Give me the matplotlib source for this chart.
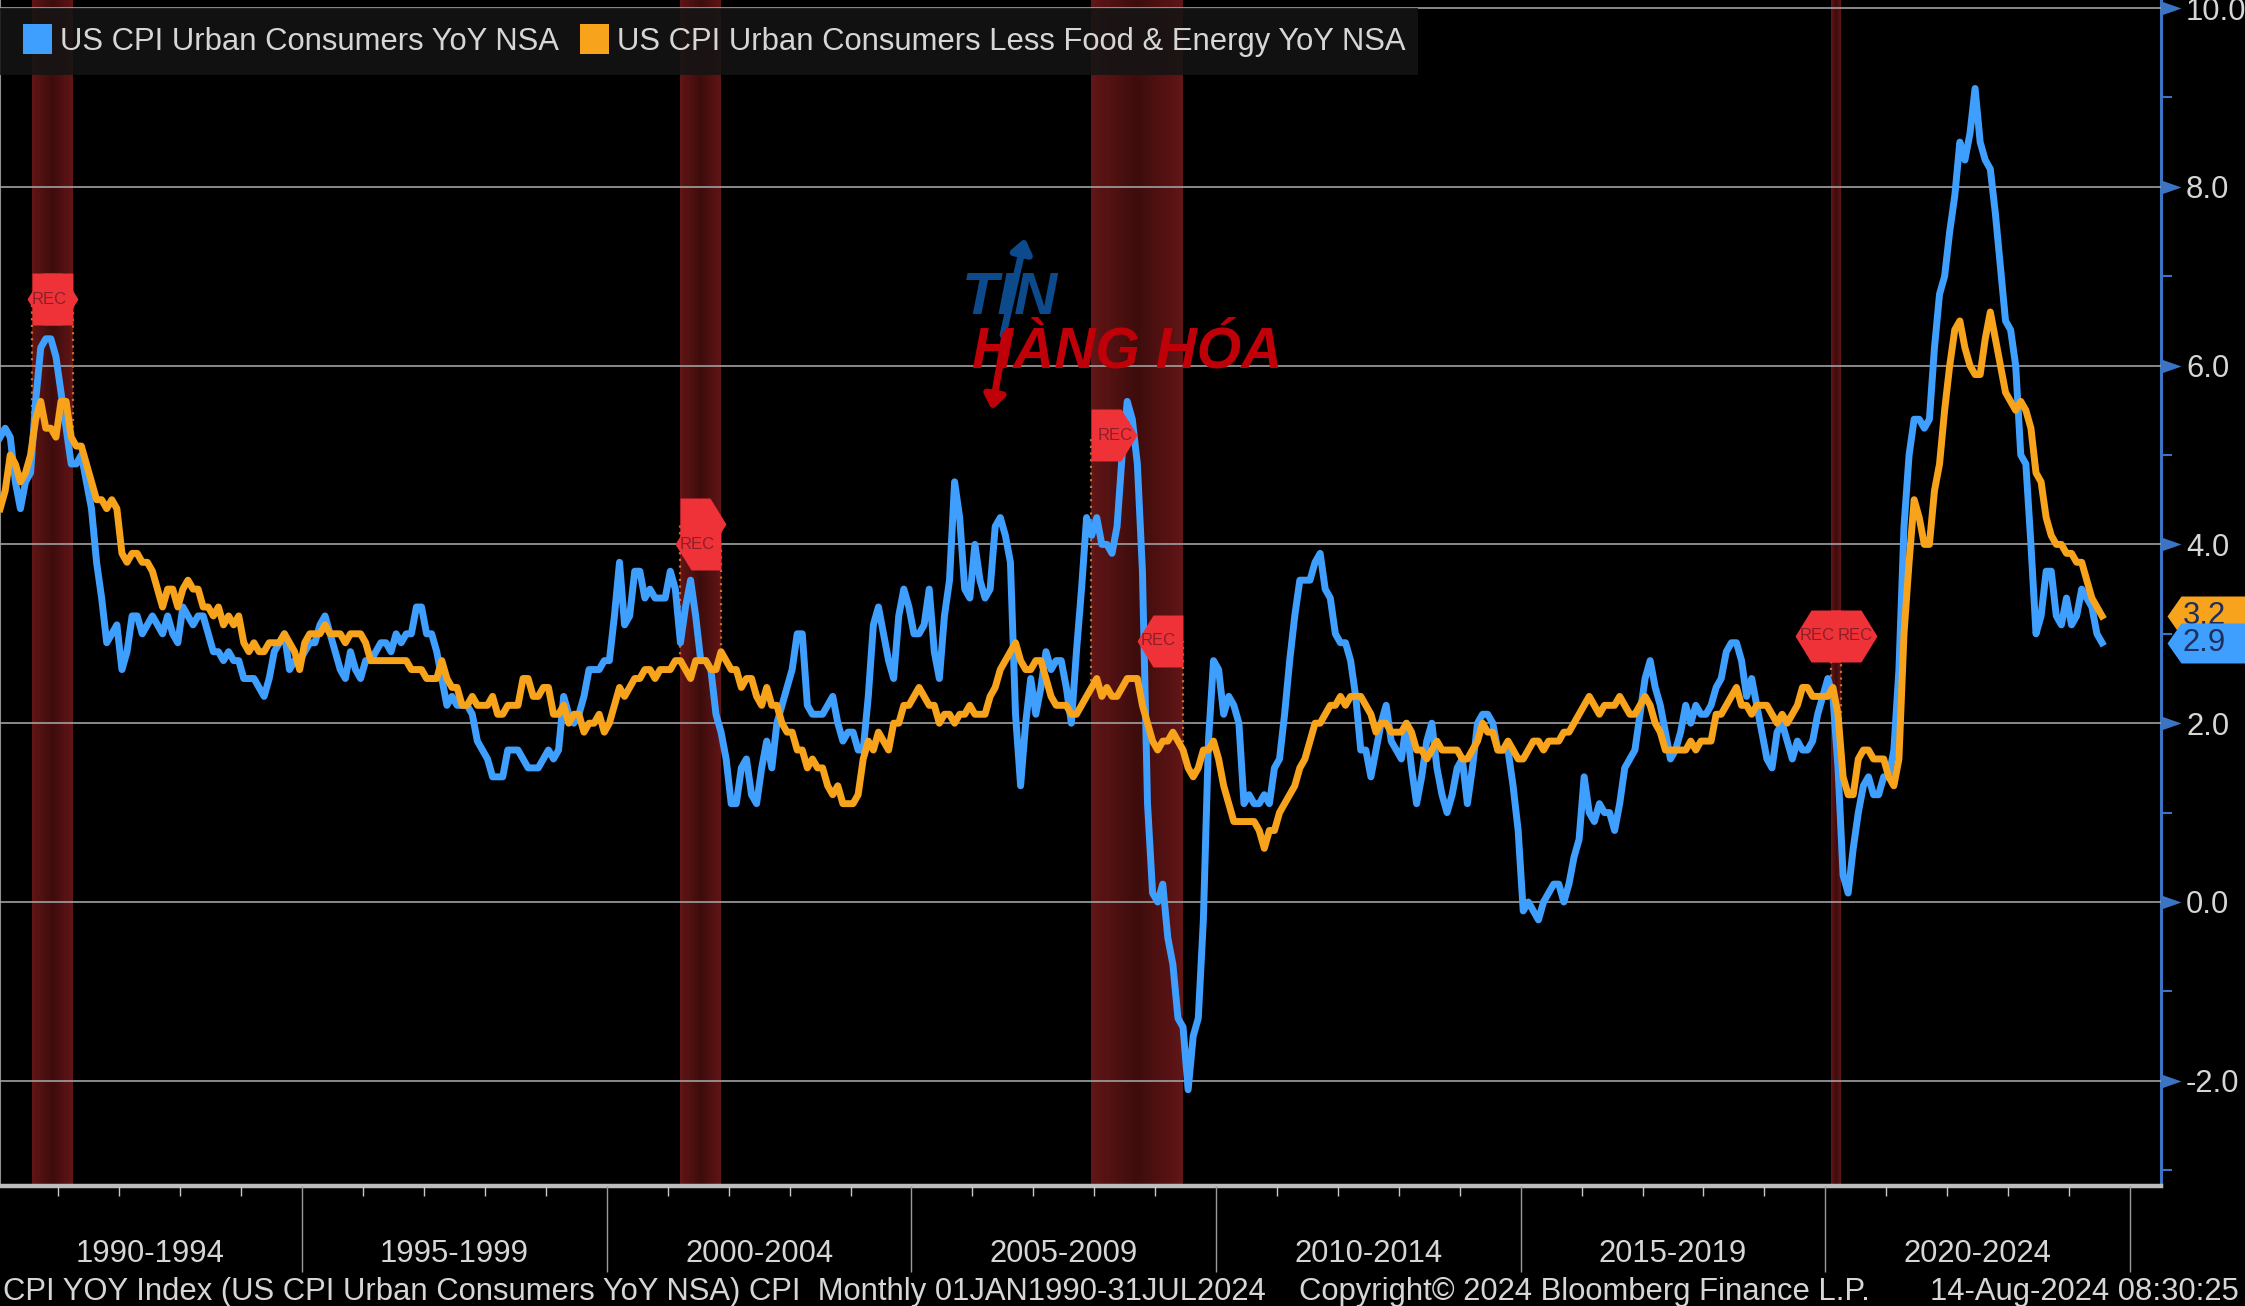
import numpy as np
import matplotlib
matplotlib.use("Agg")
import matplotlib.pyplot as plt
from matplotlib.path import Path
from matplotlib.patches import Rectangle
from matplotlib.ticker import MultipleLocator
from matplotlib.colors import to_rgb

cpi_1990s = [5.2,5.3,5.2,4.7,4.4,4.7,4.8,5.6,6.2,6.3,6.3,6.1,
 5.7,5.3,4.9,4.9,5.0,4.7,4.4,3.8,3.4,2.9,3.0,3.1,
 2.6,2.8,3.2,3.2,3.0,3.1,3.2,3.1,3.0,3.2,3.0,2.9,
 3.3,3.2,3.1,3.2,3.2,3.0,2.8,2.8,2.7,2.8,2.7,2.7,
 2.5,2.5,2.5,2.4,2.3,2.5,2.8,2.9,3.0,2.6,2.7,2.7,
 2.8,2.9,2.9,3.1,3.2,3.0,2.8,2.6,2.5,2.8,2.6,2.5,
 2.7,2.7,2.8,2.9,2.9,2.8,3.0,2.9,3.0,3.0,3.3,3.3,
 3.0,3.0,2.8,2.5,2.2,2.3,2.2,2.2,2.2,2.1,1.8,1.7,
 1.6,1.4,1.4,1.4,1.7,1.7,1.7,1.6,1.5,1.5,1.5,1.6,
 1.7,1.6,1.7,2.3,2.1,2.0,2.1,2.3,2.6,2.6,2.6,2.7]
cpi_2000s = [2.7,3.2,3.8,3.1,3.2,3.7,3.7,3.4,3.5,3.4,3.4,3.4,
 3.7,3.5,2.9,3.3,3.6,3.2,2.7,2.7,2.6,2.1,1.9,1.6,
 1.1,1.1,1.5,1.6,1.2,1.1,1.5,1.8,1.5,2.0,2.2,2.4,
 2.6,3.0,3.0,2.2,2.1,2.1,2.1,2.2,2.3,2.0,1.8,1.9,
 1.9,1.7,1.7,2.3,3.1,3.3,3.0,2.7,2.5,3.2,3.5,3.3,
 3.0,3.0,3.1,3.5,2.8,2.5,3.2,3.6,4.7,4.3,3.5,3.4,
 4.0,3.6,3.4,3.5,4.2,4.3,4.1,3.8,2.1,1.3,2.0,2.5,
 2.1,2.4,2.8,2.6,2.7,2.7,2.4,2.0,2.8,3.5,4.3,4.1,
 4.3,4.0,4.0,3.9,4.2,5.0,5.6,5.4,4.9,3.7,1.1,0.1,
 0.0,0.2,-0.4,-0.7,-1.3,-1.4,-2.1,-1.5,-1.3,-0.2,1.8,2.7]
cpi_2010s = [2.6,2.1,2.3,2.2,2.0,1.1,1.2,1.1,1.1,1.2,1.1,1.5,
 1.6,2.1,2.7,3.2,3.6,3.6,3.6,3.8,3.9,3.5,3.4,3.0,
 2.9,2.9,2.7,2.3,1.7,1.7,1.4,1.7,2.0,2.2,1.8,1.7,
 1.6,2.0,1.5,1.1,1.4,1.8,2.0,1.5,1.2,1.0,1.2,1.5,
 1.6,1.1,1.5,2.0,2.1,2.1,2.0,1.7,1.7,1.7,1.3,0.8,
 -0.1,0.0,-0.1,-0.2,0.0,0.1,0.2,0.2,0.0,0.2,0.5,0.7,
 1.4,1.0,0.9,1.1,1.0,1.0,0.8,1.1,1.5,1.6,1.7,2.1,
 2.5,2.7,2.4,2.2,1.9,1.6,1.7,1.9,2.2,2.0,2.2,2.1,
 2.1,2.2,2.4,2.5,2.8,2.9,2.9,2.7,2.3,2.5,2.2,1.9,
 1.6,1.5,1.9,2.0,1.8,1.6,1.8,1.7,1.7,1.8,2.1,2.3]
cpi_2020s = [2.5,2.3,1.5,0.3,0.1,0.6,1.0,1.3,1.4,1.2,1.2,1.4,
 1.4,1.7,2.6,4.2,5.0,5.4,5.4,5.3,5.4,6.2,6.8,7.0,
 7.5,7.9,8.5,8.3,8.6,9.1,8.5,8.3,8.2,7.7,7.1,6.5,
 6.4,6.0,5.0,4.9,4.0,3.0,3.2,3.7,3.7,3.2,3.1,3.4,
 3.1,3.2,3.5,3.4,3.3,3.0,2.9]

core_1990s = [4.4,4.6,5.0,4.9,4.7,4.8,5.0,5.4,5.6,5.3,5.3,5.2,
 5.6,5.6,5.2,5.1,5.1,4.9,4.7,4.5,4.5,4.4,4.5,4.4,
 3.9,3.8,3.9,3.9,3.8,3.8,3.7,3.5,3.3,3.5,3.5,3.3,
 3.5,3.6,3.5,3.5,3.3,3.3,3.2,3.3,3.1,3.2,3.1,3.2,
 2.9,2.8,2.9,2.8,2.8,2.9,2.9,2.9,3.0,2.9,2.8,2.6,
 2.9,3.0,3.0,3.0,3.1,3.0,3.0,3.0,2.9,3.0,3.0,3.0,
 2.9,2.7,2.7,2.7,2.7,2.7,2.7,2.7,2.7,2.6,2.6,2.6,
 2.5,2.5,2.5,2.7,2.5,2.4,2.4,2.2,2.2,2.3,2.2,2.2,
 2.2,2.3,2.1,2.1,2.2,2.2,2.2,2.5,2.5,2.3,2.3,2.4,
 2.4,2.1,2.1,2.2,2.0,2.1,2.1,1.9,2.0,2.0,2.1,1.9]
core_2000s = [2.0,2.2,2.4,2.3,2.4,2.5,2.5,2.6,2.6,2.5,2.6,2.6,
 2.6,2.7,2.7,2.6,2.5,2.7,2.7,2.7,2.6,2.6,2.8,2.7,
 2.6,2.6,2.4,2.5,2.5,2.3,2.2,2.4,2.2,2.2,2.0,1.9,
 1.9,1.7,1.7,1.5,1.6,1.5,1.5,1.3,1.2,1.3,1.1,1.1,
 1.1,1.2,1.6,1.8,1.7,1.9,1.8,1.7,2.0,2.0,2.2,2.2,
 2.3,2.4,2.3,2.2,2.2,2.0,2.1,2.1,2.0,2.1,2.1,2.2,
 2.1,2.1,2.1,2.3,2.4,2.6,2.7,2.8,2.9,2.7,2.6,2.6,
 2.7,2.7,2.5,2.3,2.2,2.2,2.2,2.1,2.1,2.2,2.3,2.4,
 2.5,2.3,2.4,2.3,2.3,2.4,2.5,2.5,2.5,2.2,2.0,1.8,
 1.7,1.8,1.8,1.9,1.8,1.7,1.5,1.4,1.5,1.7,1.7,1.8]
core_2010s = [1.6,1.3,1.1,0.9,0.9,0.9,0.9,0.9,0.8,0.6,0.8,0.8,
 1.0,1.1,1.2,1.3,1.5,1.6,1.8,2.0,2.0,2.1,2.2,2.2,
 2.3,2.2,2.3,2.3,2.3,2.2,2.1,1.9,2.0,2.0,1.9,1.9,
 1.9,2.0,1.9,1.7,1.7,1.6,1.7,1.8,1.7,1.7,1.7,1.7,
 1.6,1.6,1.7,1.8,2.0,1.9,1.9,1.7,1.7,1.8,1.7,1.6,
 1.6,1.7,1.8,1.8,1.7,1.8,1.8,1.8,1.9,1.9,2.0,2.1,
 2.2,2.3,2.2,2.1,2.2,2.2,2.2,2.3,2.2,2.1,2.1,2.2,
 2.3,2.2,2.0,1.9,1.7,1.7,1.7,1.7,1.7,1.8,1.7,1.8,
 1.8,1.8,2.1,2.1,2.2,2.3,2.4,2.2,2.2,2.1,2.2,2.2,
 2.2,2.1,2.0,2.1,2.0,2.1,2.2,2.4,2.4,2.3,2.3,2.3]
core_2020s = [2.3,2.4,2.1,1.4,1.2,1.2,1.6,1.7,1.7,1.6,1.6,1.6,
 1.4,1.3,1.6,3.0,3.8,4.5,4.3,4.0,4.0,4.6,4.9,5.5,
 6.0,6.4,6.5,6.2,6.0,5.9,5.9,6.3,6.6,6.3,6.0,5.7,
 5.6,5.5,5.6,5.5,5.3,4.8,4.7,4.3,4.1,4.0,4.0,3.9,
 3.9,3.8,3.8,3.6,3.4,3.3,3.2]

cpi = np.array(cpi_1990s + cpi_2000s + cpi_2010s + cpi_2020s)
core = np.array(core_1990s + core_2000s + core_2010s + core_2020s)
dates = 1990 + (np.arange(len(cpi)) + 0.5) / 12

recessions = [(1990.56, 1991.24), (2001.20, 2001.88), (2007.95, 2009.45), (2020.10, 2020.26)]
rec_starts_y = [6.74, 4.23, 5.22, 2.98]
rec_ends_y = [6.74, 4.00, 2.92, 2.98]
rec_start_labelled = [False, False, True, True]
period_starts = [1990, 1995, 2000, 2005, 2010, 2015, 2020]
series_names = ["US CPI Urban Consumers YoY NSA", "US CPI Urban Consumers Less Food & Energy YoY NSA"]
footer = ["CPI YOY Index (US CPI Urban Consumers YoY NSA) CPI  Monthly 01JAN1990-31JUL2024",
          "Copyright© 2024 Bloomberg Finance L.P.", "14-Aug-2024 08:30:25"]
BLUE, ORANGE = "#3f9fff", "#f8a31c"
AXBLUE = "#3c74c4"
GREY = "#d6d6d6"
FONT = "Liberation Sans"
TXT = 22.3

W, H = 2245, 1306
fig = plt.figure(figsize=(W/100, H/100), dpi=100, facecolor="black")
ax = fig.add_axes([0, 1-1186/H, 2161/W, 1186/H], facecolor="black")
ax.set_xlim(1990.04, 2025.51)
ax.set_ylim(-3.177, 10.09)
px = lambda x, y: (x/W, 1-y/H)

# recession bands with a darker middle
edge, mid = np.array(to_rgb("#611516")), np.array(to_rgb("#3d0c0c"))
for a, b in recessions:
    e = np.linspace(a, b, 25)
    for i in range(24):
        t = abs((i+0.5)/24 - 0.5)*2
        ax.axvspan(e[i], e[i+1], color=tuple(mid+(edge-mid)*t), lw=0, zorder=1)

ax.set_yticks(np.arange(-2, 11, 2))
ax.yaxis.grid(True, color="#a0a0a0", lw=1.2, zorder=2)
ax.set_axisbelow(False)
ax.xaxis.grid(False)
ax.plot(dates, cpi, color=BLUE, lw=5, solid_joinstyle="round", zorder=4)
ax.plot(dates, core, color=ORANGE, lw=5, solid_joinstyle="round", zorder=5)

# REC flags
right_flag = Path([(0,26),(30,26),(46,0),(30,-26),(0,-26),(0,26)], closed=True)
left_flag = Path([(0,26),(-30,26),(-46,0),(-30,-26),(0,-26),(0,26)], closed=True)
for (a, b), ya, yb, lab in zip(recessions, rec_starts_y, rec_ends_y, rec_start_labelled):
    for x, y, mk, off, z, show in ((a, ya, right_flag, 24, 6, lab), (b, yb, left_flag, -24, 6.5, True)):
        ax.vlines(x, np.interp(x, dates, core), y, color="#c8702c", lw=1.6, ls=(0,(1,2)), zorder=3)
        ax.plot([x], [y], marker=mk, ms=66.2, mfc="#ee3238", mec="none", ls="none", zorder=z, clip_on=False)
        if show:
            ax.annotate("REC", (x, y), xytext=(off*0.72, 0), textcoords="offset points", ha="center", va="center",
                        fontsize=12, color="#8e1f28", family=FONT, zorder=7)

# axes
ax.spines["top"].set_visible(False)
ax.spines["left"].set_color("#8f8f8f"); ax.spines["left"].set_linewidth(1.5)
ax.spines["right"].set_color(AXBLUE); ax.spines["right"].set_linewidth(2.2)
ax.spines["bottom"].set_color("#bdbdbd"); ax.spines["bottom"].set_linewidth(3.2)

ax.yaxis.tick_right()
ax.set_yticks(np.arange(-3, 11, 2), minor=True)
ax.tick_params(axis="y", which="minor", length=8, width=1.5, color=AXBLUE, right=True, left=False)
ax.tick_params(axis="y", which="major", length=0, pad=18, labelsize=TXT, labelcolor=GREY, right=True, left=False)
ax.set_yticklabels([f"{v:.1f}" for v in np.arange(-2, 11, 2)], family=FONT)
tri = Path([(0,7),(20,0),(0,-7),(0,7)], closed=True)
ax.plot(np.ones(7), np.arange(-2, 11, 2), marker=tri, ms=28.8, mfc=AXBLUE, mec="none", ls="none",
        transform=ax.get_yaxis_transform(), clip_on=False, zorder=8)

ax.set_xticks(period_starts[1:] + [2025])
ax.xaxis.set_minor_locator(MultipleLocator(1))
ax.tick_params(axis="x", which="major", length=62, width=1, color="#9a9a9a", labelbottom=False)
ax.tick_params(axis="x", which="minor", length=7, width=1, color="#c8c8c8")
for s in period_starts:
    ax.annotate(f"{s}-{s+4}", (s+2.5, 0), xycoords=ax.get_xaxis_transform(), xytext=(0, -49), textcoords="offset points",
                ha="center", va="center", fontsize=TXT, color=GREY, family=FONT, annotation_clip=False)

# last value tags
tag = Path([(0,0),(14,20),(95,20),(95,-20),(14,-20),(0,0)], closed=True)
for vals, col, z in ((core, ORANGE, 9), (cpi, BLUE, 11)):
    ax.plot([1.003], [vals[-1]], marker=tag, ms=136.8, mfc=col, mec="none", ls="none",
            transform=ax.get_yaxis_transform(), clip_on=False, zorder=z)
    ax.annotate(f"{vals[-1]:.1f}", (1, vals[-1]), xycoords=ax.get_yaxis_transform(), xytext=(31, 0), textcoords="offset points",
                ha="center", va="center", fontsize=TXT, color="#1f2f5c", family=FONT, zorder=z+0.5, annotation_clip=False)

# legend strip
fig.add_artist(Rectangle(px(0, 75), 1418/W, 67/H, transform=fig.transFigure, fc="#141414", ec="none", alpha=0.88, zorder=20))
for x0, tx, col, name in ((23, 60, BLUE, series_names[0]), (580, 617, ORANGE, series_names[1])):
    fig.add_artist(Rectangle(px(x0, 54), 29/W, 30/H, transform=fig.transFigure, fc=col, ec="none", zorder=21))
    fig.text(*px(tx, 42), name, fontsize=TXT, color=GREY, family=FONT, ha="left", va="center", zorder=22)

# footer
for x0, t in zip((3, 1299, 1930), footer):
    fig.text(*px(x0, 1292), t, fontsize=TXT, color=GREY, family=FONT, ha="left", va="center")

# watermark
fig.text(*px(962, 299), "TIN", fontsize=43, color="#0d4a8c", family=FONT, weight="bold", style="italic", va="center", zorder=15)
fig.text(*px(972, 352), "HÀNG HÓA", fontsize=41, color="#c00009", family=FONT, weight="bold", style="italic", va="center", zorder=15)
ar = dict(xycoords="figure fraction", textcoords="figure fraction", zorder=15, annotation_clip=False)
ax.annotate("", xy=px(1025, 238), xytext=px(1003, 335), arrowprops=dict(arrowstyle="-|>,head_width=0.6,head_length=0.8", color="#0d4a8c", lw=5, shrinkA=0, shrinkB=0), **ar)
ax.annotate("", xy=px(992, 410), xytext=px(1005, 335), arrowprops=dict(arrowstyle="-|>,head_width=0.6,head_length=0.8", color="#c00009", lw=5, shrinkA=0, shrinkB=0), **ar)

fig.savefig("out.png", dpi=100, facecolor="black")
